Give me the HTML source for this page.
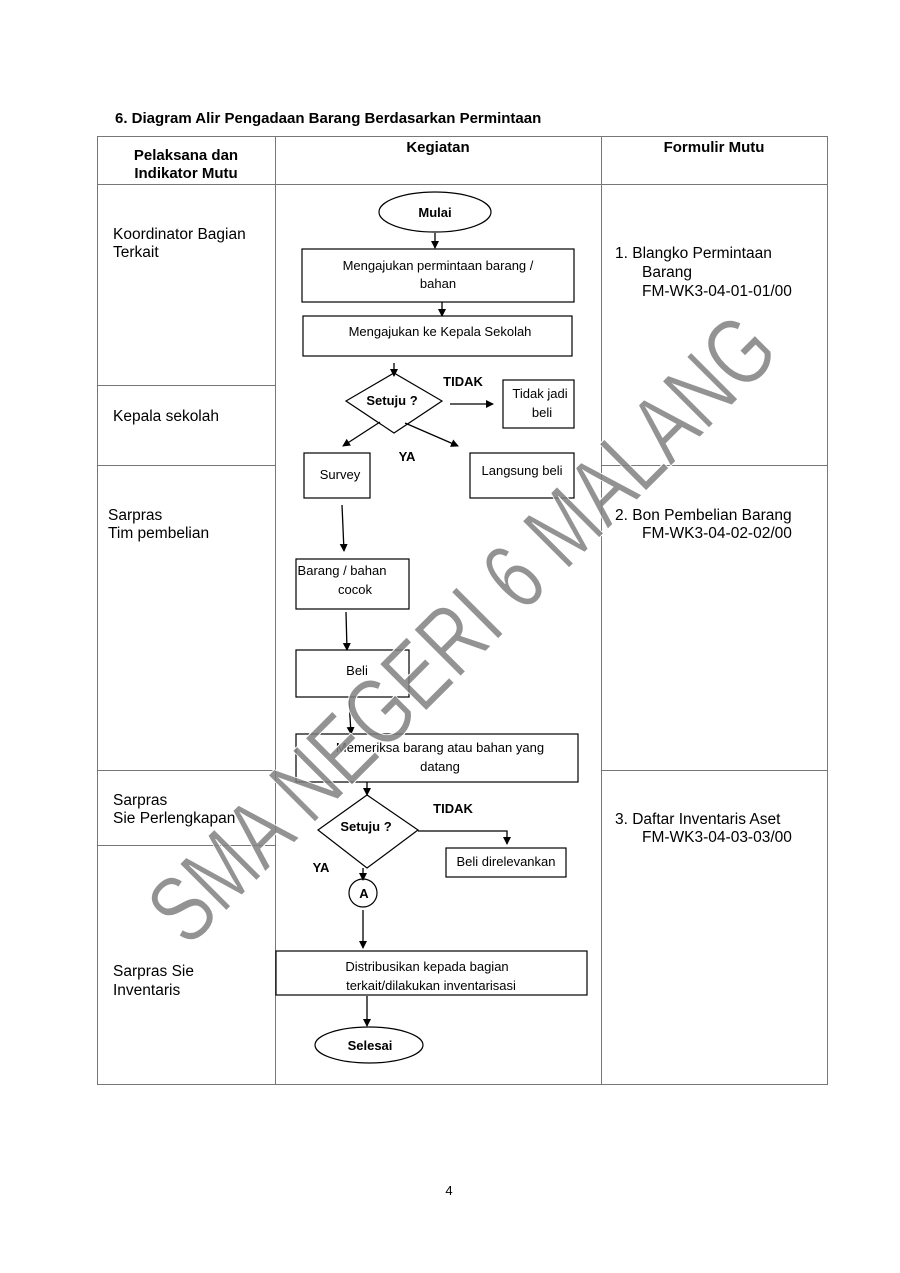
<!DOCTYPE html>
<html><head><meta charset="utf-8"><style>
html,body{margin:0;padding:0;background:#fff}
svg{display:block}
text{font-family:"Liberation Sans",Arial,sans-serif;fill:#000}
.b{font-weight:bold}
</style></head><body>
<svg width="900" height="1273" viewBox="0 0 900 1273" xmlns="http://www.w3.org/2000/svg">
<defs><marker id="a" markerWidth="8" markerHeight="8" refX="7" refY="4" orient="auto" markerUnits="userSpaceOnUse"><path d="M0,0 L8,4 L0,8 z" fill="#000"/></marker></defs>
<text x="115" y="123" class="b" font-size="15">6.  Diagram Alir Pengadaan Barang Berdasarkan Permintaan</text>
<g stroke="#777" stroke-width="1" fill="none">
<rect x="97.5" y="136.5" width="730" height="948"/>
<line x1="275.5" y1="136" x2="275.5" y2="1084"/>
<line x1="601.5" y1="136" x2="601.5" y2="1084"/>
<line x1="97" y1="184.5" x2="827" y2="184.5"/>
<line x1="97" y1="385.5" x2="275" y2="385.5"/>
<line x1="97" y1="465.5" x2="275" y2="465.5"/>
<line x1="97" y1="770.5" x2="275" y2="770.5"/>
<line x1="97" y1="845.5" x2="275" y2="845.5"/>
<line x1="601" y1="465.5" x2="827" y2="465.5"/>
<line x1="601" y1="770.5" x2="827" y2="770.5"/>
</g>
<g font-size="15" class="b" text-anchor="middle">
<text x="186" y="160">Pelaksana dan</text><text x="186" y="178">Indikator Mutu</text>
<text x="438" y="152">Kegiatan</text><text x="714" y="152">Formulir Mutu</text>
</g>
<g font-size="15.5">
<text x="113" y="239">Koordinator Bagian</text><text x="113" y="257">Terkait</text>
<text x="113" y="421">Kepala sekolah</text>
<text x="108" y="520">Sarpras</text><text x="108" y="538">Tim pembelian</text>
<text x="113" y="805">Sarpras</text><text x="113" y="823">Sie Perlengkapan</text>
<text x="113" y="976">Sarpras Sie</text><text x="113" y="995">Inventaris</text>
<text x="615" y="258">1.  Blangko Permintaan</text><text x="642" y="277">Barang</text><text x="642" y="296">FM-WK3-04-01-01/00</text>
<text x="615" y="520">2.  Bon Pembelian Barang</text><text x="642" y="538">FM-WK3-04-02-02/00</text>
<text x="615" y="824">3. Daftar Inventaris Aset</text><text x="642" y="842">FM-WK3-04-03-03/00</text>
</g>
<g stroke="#000" stroke-width="1.2" fill="#fff">
<ellipse cx="435" cy="212" rx="56" ry="20"/>
<rect x="302" y="249" width="272" height="53"/>
<rect x="303" y="316" width="269" height="40"/>
<polygon points="346,401 394,373 442,401 394,433"/>
<rect x="503" y="380" width="71" height="48"/>
<rect x="304" y="453" width="66" height="45"/>
<rect x="470" y="453" width="104" height="45"/>
<rect x="296" y="559" width="113" height="50"/>
<rect x="296" y="650" width="113" height="47"/>
<rect x="296" y="734" width="282" height="48"/>
<polygon points="318,830 367,795 418,830 367,868"/>
<rect x="446" y="848" width="120" height="29"/>
<circle cx="363" cy="893" r="14"/>
<rect x="276" y="951" width="311" height="44"/>
<ellipse cx="369" cy="1045" rx="54" ry="18"/>
</g>
<g stroke="#000" stroke-width="1.3" fill="none" marker-end="url(#a)">
<line x1="435" y1="233" x2="435" y2="248"/>
<line x1="442" y1="302" x2="442" y2="316"/>
<line x1="394" y1="363" x2="394" y2="376"/>
<line x1="450" y1="404" x2="493" y2="404"/>
<line x1="380" y1="422" x2="343" y2="446"/>
<line x1="405" y1="423" x2="458" y2="446"/>
<line x1="342" y1="505" x2="344" y2="551"/>
<line x1="346" y1="612" x2="347" y2="650"/>
<line x1="349" y1="700" x2="351" y2="734"/>
<line x1="367" y1="782" x2="367" y2="795"/>
<polyline points="418,831 507,831 507,844"/>
<line x1="363" y1="868" x2="363" y2="880"/>
<line x1="363" y1="910" x2="363" y2="948"/>
<line x1="367" y1="996" x2="367" y2="1026"/>
</g>
<g font-size="13" text-anchor="middle">
<text x="435" y="217" class="b">Mulai</text>
<text x="438" y="270">Mengajukan permintaan barang /</text><text x="438" y="288">bahan</text>
<text x="440" y="336">Mengajukan ke Kepala Sekolah</text>
<text x="392" y="405" class="b">Setuju ?</text>
<text x="463" y="386" class="b">TIDAK</text>
<text x="540" y="398">Tidak jadi</text><text x="542" y="417">beli</text>
<text x="407" y="461" class="b">YA</text>
<text x="340" y="479">Survey</text>
<text x="522" y="475">Langsung beli</text>
<text x="342" y="575">Barang / bahan</text><text x="355" y="594">cocok</text>
<text x="357" y="675">Beli</text>
<text x="440" y="752">Memeriksa barang atau bahan yang</text><text x="440" y="771">datang</text>
<text x="366" y="831" class="b">Setuju ?</text>
<text x="453" y="813" class="b">TIDAK</text>
<text x="506" y="866">Beli direlevankan</text>
<text x="321" y="872" class="b">YA</text>
<text x="364" y="898" class="b">A</text>
<text x="427" y="971">Distribusikan kepada bagian</text><text x="431" y="990">terkait/dilakukan inventarisasi</text>
<text x="370" y="1050" class="b">Selesai</text>
</g>
<!-- watermark -->
<text x="0" y="0" transform="translate(485,652) rotate(-45)" text-anchor="middle" font-size="96" textLength="840" lengthAdjust="spacingAndGlyphs" style="fill:#808080;fill-opacity:0.85;stroke:#fff;stroke-width:1">SMA NEGERI 6 MALANG</text>
<text x="449" y="1195" font-size="13" text-anchor="middle">4</text>
</svg>
</body></html>
